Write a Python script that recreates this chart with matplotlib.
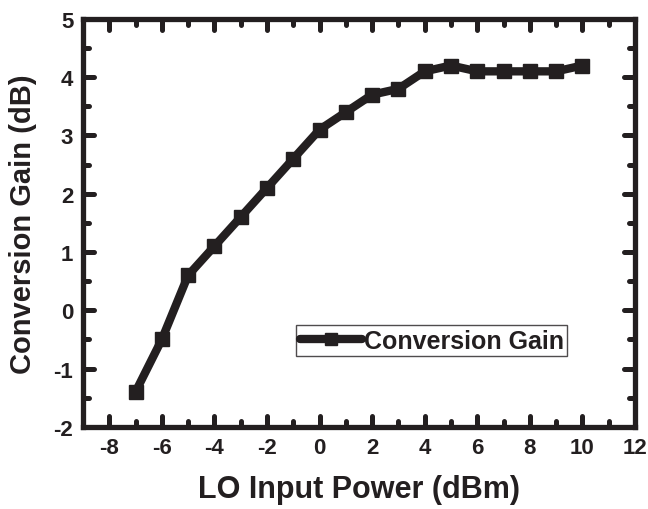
import numpy as np
import matplotlib
matplotlib.use("Agg")
from matplotlib import pyplot as plt
from matplotlib.markers import MarkerStyle

# data
lo_power = [-7, -6, -5, -4, -3, -2, -1, 0, 1, 2, 3, 4, 5, 6, 7, 8, 9, 10]
conv_gain = [-1.4, -0.5, 0.6, 1.1, 1.6, 2.1, 2.6, 3.1, 3.4, 3.7, 3.8, 4.1, 4.2, 4.1, 4.1, 4.1, 4.1, 4.2]
x_ticks = [-8, -6, -4, -2, 0, 2, 4, 6, 8, 10, 12]
y_ticks = [-2, -1, 0, 1, 2, 3, 4, 5]

ink = '#231f20'
plt.rcParams['font.family'] = ['Liberation Sans', 'DejaVu Sans']
plt.rcParams['font.weight'] = 'bold'
plt.rcParams['axes.unicode_minus'] = False

fig = plt.figure(figsize=(6.48, 5.10), dpi=100)
ax = fig.add_axes([0.128, 0.161, 0.852, 0.800])

ax.plot(lo_power, conv_gain, '-s', color=ink, lw=6, markersize=10,
        solid_capstyle='round', solid_joinstyle='round', label='Conversion Gain')

ax.set_xlim(-9, 12)
ax.set_ylim(-2, 5)
ax.set_xticks(x_ticks)
ax.set_yticks(y_ticks)
ax.set_xticks(np.arange(-9, 12, 1), minor=True)
ax.set_yticks(np.arange(-1.5, 5, 1), minor=True)

for s in ax.spines.values():
    s.set_linewidth(3.8)
    s.set_color(ink)
    s.set_capstyle('projecting')

ax.tick_params(which='both', direction='in', top=True, right=True, color=ink,
               width=3.6, labelsize=16, pad=7, labelcolor=ink)
ax.tick_params(which='major', length=8)
ax.tick_params(which='minor', length=4.5)

# round tick ends like the original
for axis in (ax.xaxis, ax.yaxis):
    for ticks in (axis.get_major_ticks(), axis.get_minor_ticks()):
        for t in ticks:
            for ln in (t.tick1line, t.tick2line):
                ln.set_marker(MarkerStyle(ln.get_marker(), capstyle='round'))

for lab in ax.get_xticklabels() + ax.get_yticklabels():
    lab.set_fontweight('bold')

ax.set_xlabel('LO Input Power (dBm)', fontsize=22, fontweight='bold', color=ink, labelpad=12)
ax.set_ylabel('Conversion Gain (dB)', fontsize=21, fontweight='bold', color=ink, labelpad=12)

leg = ax.legend(loc='upper left', bbox_to_anchor=(0.386, 0.250), borderaxespad=0,
                fancybox=False, edgecolor=ink, fontsize=18, handlelength=2.5,
                handletextpad=0.05, borderpad=0.15, markerscale=0.8)
leg.get_frame().set_linewidth(1.0)
for t in leg.get_texts():
    t.set_fontweight('bold')
    t.set_color(ink)

fig.savefig('out.png', dpi=100)
